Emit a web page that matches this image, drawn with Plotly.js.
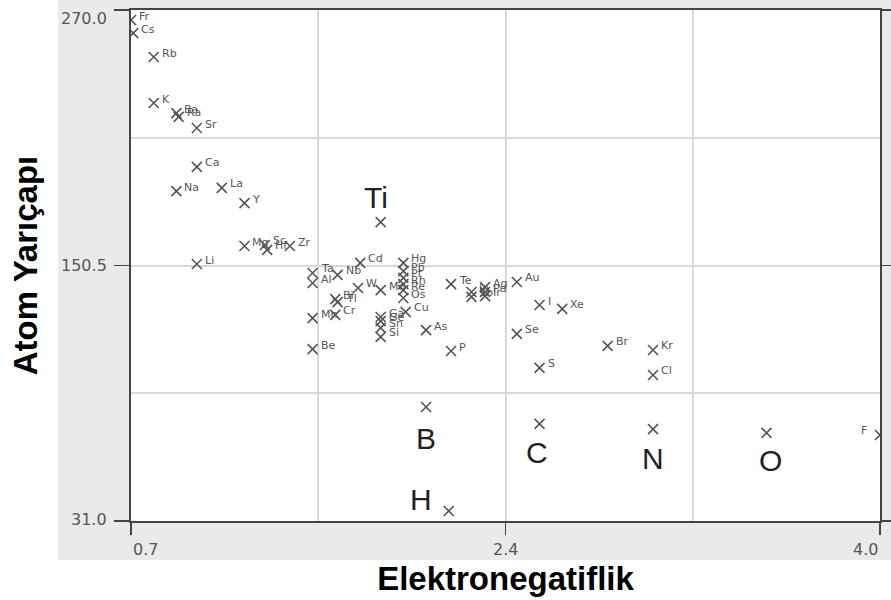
<!DOCTYPE html>
<html>
<head>
<meta charset="utf-8">
<script src="https://cdn.plot.ly/plotly-3.0.1.min.js"></script>
<style>html,body{margin:0;padding:0;background:#fff;}#chart{width:891px;height:600px;}</style>
</head>
<body>
<div id="chart"></div>
<script>
// ---- data ----
const symbols = ['Fr','Cs','Rb','K','Ba','Ra','Sr','Ca','Na','La','Y','Mg','Sc','Hf','Zr','Li',
  'Ti','Ta','Al','Nb','Cd','Hg','Pb','Pt','Rh','Re','Os','Mo','W','Bi','Tl','Mn','Cr','Be','Cu',
  'Ga','Ge','Sn','Si','As','P','Te','In','Sb','Ag','Pd','Ir','Au','I','Xe','Se','S','Br','Kr','Cl',
  'N','O','F','B','C','H'];
const electronegativity = [0.70,0.71,0.80,0.80,0.90,0.91,0.99,0.99,0.90,1.10,1.20,1.20,1.29,1.30,1.40,0.99,
  1.80,1.50,1.50,1.61,1.71,1.90,1.90,1.90,1.90,1.90,1.90,1.80,1.70,1.60,1.61,1.50,1.60,1.50,1.91,
  1.80,1.80,1.80,1.80,2.00,2.11,2.11,2.20,2.20,2.26,2.26,2.26,2.40,2.50,2.60,2.40,2.50,2.80,3.00,3.00,
  3.00,3.50,4.00,2.00,2.50,2.10];
const atomicRadius = [265.3,259.2,248.0,226.5,221.8,220.0,214.8,196.6,185.3,186.8,179.7,159.6,160.1,157.8,159.6,151.2,
  170.8,147.0,142.3,146.1,151.7,151.7,147.9,144.7,141.8,139.0,135.3,139.0,140.0,134.8,133.4,125.9,127.4,111.4,128.8,
  126.4,124.5,121.3,117.1,120.3,110.5,141.8,138.1,135.8,140.4,138.1,136.2,142.8,132.0,130.2,118.5,102.6,112.9,111.0,99.3,
  74.0,72.2,71.2,84.3,76.4,35.7];
const bigLabels = ['Ti','B','C','N','O','H'];
const leftLabels = ['F'];

const xRange = [0.7, 4.0];
const yRange = [31.0, 270.0];
const xTickVals = [0.7, 2.35, 4.0];
const xTickText = ['0.7', '2.4', '4.0'];
const yTickVals = [31.0, 150.5, 270.0];
const yTickText = ['31.0', '150.5', '270.0'];
const xMinorGrid = [1.525, 3.175];
const yMinorGrid = [90.75, 210.25];

// ---- styles (pixel offsets for the large labels) ----
const bigOffsets = {Ti:[-5,-25], B:[0,31], C:[-3,29], N:[0,29], O:[4,28], H:[-28,-11]};
const xTickAnchor = ['left','center','right'];
const yTickShift = [2, 0, -8];

const annotations = [];
symbols.forEach((s, i) => {
  if (bigLabels.includes(s)) {
    const o = bigOffsets[s];
    annotations.push({x: electronegativity[i], y: atomicRadius[i], xref:'x', yref:'y', text: s,
      showarrow:false, xanchor:'center', yanchor:'middle', xshift:o[0], yshift:-o[1],
      font:{family:'Liberation Sans, Arial, sans-serif', size:30, color:'#222'}});
  } else if (leftLabels.includes(s)) {
    annotations.push({x: electronegativity[i], y: atomicRadius[i], xref:'x', yref:'y', text: s,
      showarrow:false, xanchor:'right', yanchor:'middle', xshift:-11, yshift:5,
      font:{family:'DejaVu Sans, sans-serif', size:11, color:'#555'}});
  } else {
    annotations.push({x: electronegativity[i], y: atomicRadius[i], xref:'x', yref:'y', text: s,
      showarrow:false, xanchor:'left', yanchor:'middle', xshift:6, yshift:4,
      font:{family:'DejaVu Sans, sans-serif', size:11, color:'#555'}});
  }
});
xTickVals.forEach((v, i) => {
  annotations.push({x: v, y: 0, xref:'x', yref:'paper', text: xTickText[i], showarrow:false,
    xanchor: xTickAnchor[i], yanchor:'top', yshift:-17,
    font:{family:'DejaVu Sans, sans-serif', size:16, color:'#555'}});
});
yTickVals.forEach((v, i) => {
  annotations.push({x: 0, y: v, xref:'paper', yref:'y', text: yTickText[i], showarrow:false,
    xanchor:'right', yanchor:'middle', xshift:-22, yshift: yTickShift[i],
    font:{family:'DejaVu Sans, sans-serif', size:16, color:'#555'}});
});

const trace = {
  type:'scatter', mode:'markers',
  x: electronegativity, y: atomicRadius, text: symbols,
  marker:{symbol:'x-thin-open', size:10, color:'#555', line:{width:1.6, color:'#555'}},
  cliponaxis:true, hoverinfo:'text'
};

const gridColor = '#d9d9d9';
const layout = {
  width:891, height:600,
  margin:{l:131, r:11, t:10, b:79, pad:0},
  paper_bgcolor:'#ffffff', plot_bgcolor:'#ffffff',
  showlegend:false,
  xaxis:{
    range:xRange, showline:true, mirror:true, linecolor:'#444', linewidth:2,
    ticks:'outside', ticklen:12, tickwidth:1.5, tickcolor:'#444',
    tickmode:'array', tickvals:xTickVals, showticklabels:false,
    showgrid:true, gridcolor:gridColor, gridwidth:2, zeroline:false,
    minor:{tickmode:'array', tickvals:xMinorGrid, showgrid:true, gridcolor:gridColor, gridwidth:2, ticks:''},
    title:{text:'<b>Elektronegatiflik</b>', standoff:33,
      font:{family:'Liberation Sans, Arial, sans-serif', size:33, color:'#000'}}
  },
  yaxis:{
    range:yRange, showline:true, mirror:'ticks', linecolor:'#444', linewidth:2,
    ticks:'outside', ticklen:15, tickwidth:1.5, tickcolor:'#444',
    tickmode:'array', tickvals:yTickVals, showticklabels:false,
    showgrid:true, gridcolor:gridColor, gridwidth:2, zeroline:false,
    minor:{tickmode:'array', tickvals:yMinorGrid, showgrid:true, gridcolor:gridColor, gridwidth:2, ticks:''},
    title:{text:'<b>Atom Yarıçapı</b>', standoff:66,
      font:{family:'Liberation Sans, Arial, sans-serif', size:33, color:'#000'}}
  },
  shapes:[
    {type:'rect', xref:'paper', yref:'paper', x0:-0.0975, x1:1.0147, y0:-0.0763, y1:1.02,
      fillcolor:'#eaeaea', line:{width:0}, layer:'below'},
    {type:'rect', xref:'paper', yref:'paper', x0:0, x1:1, y0:0, y1:1,
      fillcolor:'#ffffff', line:{width:0}, layer:'below'}
  ],
  annotations:annotations
};

Plotly.newPlot('chart', [trace], layout, {displayModeBar:false, staticPlot:true});
</script>
</body>
</html>
